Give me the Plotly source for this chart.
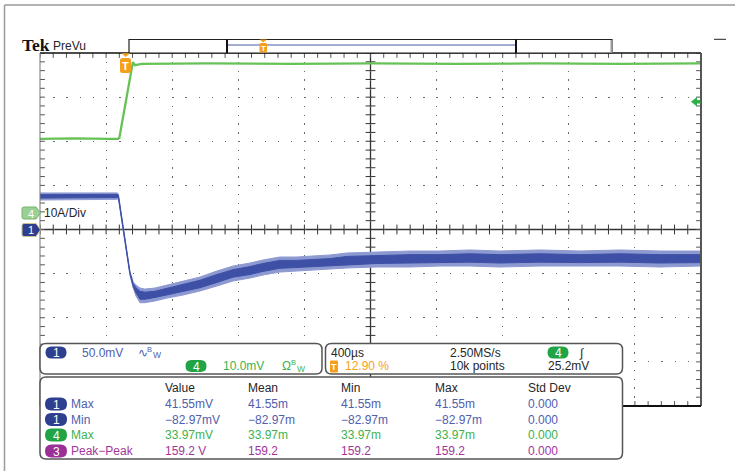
import numpy as np
import plotly.graph_objects as go

# ---------------- scope settings (read from the on-screen readouts) ----------------
H_SCALE_US = 400.0        # µs / div
TRIG_POS_PCT = 12.90      # trigger position in % of record
CH1_SCALE_MV = 50.0       # mV / div
CH4_SCALE_A = 10.0        # A / div  (10A/Div)
CH4_OFFSET_DIV = 0.374    # ch4 ground marker position above centre (div)
TRIG_LEVEL_A = 25.2       # trigger level (25.2mV -> 25.2 A)

# ---------------- CH1 (blue): envelope of the noisy trace, mV ----------------
ch1_t = [-516, -300, -150, -50, -42, -12, 28, 48, 65, 89, 119, 180, 252, 349, 452, 555,
         652, 755, 833, 936, 1038, 1136, 1239, 1342, 1523, 1723, 1904, 2086, 2268, 2510,
         2752, 2994, 3236, 3484]
ch1_hi = [41.4, 41.5, 41.0, 41.5, 40.5, 1.7, -47.0, -59.5, -62.9, -66.3, -67.5, -66.3,
          -62.9, -58.4, -53.9, -47.0, -41.4, -38.0, -34.6, -31.2, -31.2, -30.0, -28.9,
          -26.6, -25.5, -24.4, -24.4, -23.2, -24.4, -23.2, -24.4, -23.2, -24.4, -24.4]
ch1_lo = [33.4, 34.0, 33.6, 34.2, 35.0, -2.8, -51.6, -66.3, -75.4, -83.0, -82.9, -81.0,
          -77.7, -74.3, -69.7, -64.0, -58.4, -55.0, -51.6, -48.2, -47.0, -45.9, -44.8,
          -43.6, -42.5, -42.5, -41.4, -41.4, -42.5, -41.4, -41.4, -41.4, -42.5, -41.4]
ch1_core_hi = [39.5, 39.8, 39.4, 39.8, 39.0, 0.5, -48.5, -61.5, -66.0, -70.0, -71.0, -70.0,
               -66.5, -62.0, -57.5, -51.0, -45.5, -42.0, -38.5, -35.0, -35.0, -34.0, -33.0,
               -30.5, -29.5, -28.5, -28.5, -27.5, -28.5, -27.5, -28.5, -27.5, -28.5, -28.5]
ch1_core_lo = [35.6, 36.2, 35.8, 36.2, 37.0, -1.5, -50.0, -64.5, -72.0, -79.0, -79.0, -77.0,
               -74.0, -70.5, -66.0, -60.0, -54.0, -51.0, -47.5, -44.0, -43.0, -42.0, -41.0,
               -39.5, -38.5, -38.0, -37.5, -37.0, -38.0, -37.0, -37.5, -37.0, -38.0, -37.5]

# ---------------- CH4 (green): current, A ----------------
ch4_t = [-516, -300, -100, -45, -36, 46, 58, 100, 500, 1000, 1500, 2000, 2500, 3000, 3484]
ch4_a = [16.8, 16.9, 16.8, 16.8, 17.0, 34.2, 33.5, 33.8, 33.9, 33.8, 33.9, 33.8, 33.9, 33.8, 33.9]

# ---------------- measurement table ----------------
meas_headers = ["Value", "Mean", "Min", "Max", "Std Dev"]
meas_channels = ["1", "1", "4", "3"]
meas_names = ["Max", "Min", "Max", "Peak\u2212Peak"]
meas_values = [
    ["41.55mV", "41.55m", "41.55m", "41.55m", "0.000"],
    ["\u221282.97mV", "\u221282.97m", "\u221282.97m", "\u221282.97m", "0.000"],
    ["33.97mV", "33.97m", "33.97m", "33.97m", "0.000"],
    ["159.2 V", "159.2", "159.2", "159.2", "0.000"],
]

# ---------------- colours / fonts ----------------
FONT = "Liberation Sans, Arial, sans-serif"
BLUE_TXT, BLUE_PILL = "#5060ae", "#2d3f8e"
GREEN_TXT, GREEN_PILL = "#3db24e", "#20a445"
PURPLE_TXT, PURPLE_PILL = "#a3369b", "#9a2f95"
ORANGE = "#f5a01c"
DARK = "#262626"
TRACE_BLUE_LIGHT, TRACE_BLUE = "#8d9ad2", "#3e50a6"
TRACE_GREEN = "#66c256"

# ---------------- geometry of the graticule in the page ----------------
L, R, T, B = 40, 701, 53, 406
W, H = 735, 471
PW, PH = R - L, B - T

t0 = -TRIG_POS_PCT / 100.0 * 10 * H_SCALE_US
t1 = t0 + 10 * H_SCALE_US
y_half = 4 * CH1_SCALE_MV
y2_lo = -4 * CH4_SCALE_A - CH4_OFFSET_DIV * CH4_SCALE_A
y2_hi = 4 * CH4_SCALE_A - CH4_OFFSET_DIV * CH4_SCALE_A
t_mid = (t0 + t1) / 2


def px(x):
    return (x - L) / PW


def py(y):
    return (B - y) / PH


def P(x, y):
    return f"{px(x):.5f},{py(y):.5f}"


def rrect(x0, y0, x1, y1, r):
    return (f"M{P(x0 + r, y0)} L{P(x1 - r, y0)} Q{P(x1, y0)} {P(x1, y0 + r)} "
            f"L{P(x1, y1 - r)} Q{P(x1, y1)} {P(x1 - r, y1)} L{P(x0 + r, y1)} "
            f"Q{P(x0, y1)} {P(x0, y1 - r)} L{P(x0, y0 + r)} Q{P(x0, y0)} {P(x0 + r, y0)} Z")


shapes, annotations = [], []


def line_px(x0, y0, x1, y1, color, width, layer="above"):
    shapes.append(dict(type="line", xref="paper", yref="paper", x0=px(x0), y0=py(y0),
                       x1=px(x1), y1=py(y1), line=dict(color=color, width=width), layer=layer))


def path_px(path, fill, line_color=None, width=0, layer="above"):
    shapes.append(dict(type="path", xref="paper", yref="paper", path=path, fillcolor=fill,
                       line=dict(color=line_color or fill, width=width), layer=layer))


def txt(x, y, s, color, size=12, anchor="left", family=FONT, weight="normal"):
    annotations.append(dict(xref="paper", yref="paper", x=px(x), y=py(y), text=s,
                            showarrow=False, xanchor=anchor, yanchor="middle", borderpad=0,
                            font=dict(family=family, size=size, color=color, weight=weight)))


def pill(cx, cy, w, h, color, label):
    path_px(rrect(cx - w / 2, cy - h / 2, cx + w / 2, cy + h / 2, h / 2), color)
    txt(cx, cy + 0.5, label, "white", 12, "center")


def bw_symbol(x, y, glyph, color):
    txt(x, y, glyph, color, 12)
    txt(x + 9.5, y - 3.5, "B", color, 7.5)
    txt(x + 15.5, y + 2.5, "W", color, 8.5)


fig = go.Figure()

# ---------------- graticule ticks (centre cross + edges) ----------------
minor_t = np.arange(t0, t1 + 1e-6, H_SCALE_US / 5)
minor_v = np.arange(-y_half, y_half + 1e-6, CH1_SCALE_MV / 5)
tick_style = dict(mode="markers", hoverinfo="skip", showlegend=False)
fig.add_trace(go.Scatter(x=minor_t, y=np.zeros_like(minor_t), **tick_style,
                         marker=dict(symbol="line-ns", size=7, line=dict(color="#333", width=1))))
fig.add_trace(go.Scatter(x=np.full_like(minor_v, t_mid), y=minor_v, **tick_style,
                         marker=dict(symbol="line-ew", size=7, line=dict(color="#333", width=1))))
for yy in (-y_half, y_half):
    fig.add_trace(go.Scatter(x=minor_t, y=np.full_like(minor_t, yy), **tick_style,
                             marker=dict(symbol="line-ns", size=7, line=dict(color="#555", width=1))))
for xx in (t0, t1):
    fig.add_trace(go.Scatter(x=np.full_like(minor_v, xx), y=minor_v, **tick_style,
                             marker=dict(symbol="line-ew", size=7, line=dict(color="#555", width=1))))

# ---------------- CH1 envelope bands ----------------
fig.add_trace(go.Scatter(x=ch1_t, y=ch1_lo, mode="lines", line=dict(color=TRACE_BLUE_LIGHT, width=1),
                         hoverinfo="skip", showlegend=False))
fig.add_trace(go.Scatter(x=ch1_t, y=ch1_hi, mode="lines", line=dict(color=TRACE_BLUE_LIGHT, width=1),
                         fill="tonexty", fillcolor=TRACE_BLUE_LIGHT, hoverinfo="skip", showlegend=False))
fig.add_trace(go.Scatter(x=ch1_t, y=ch1_core_lo, mode="lines", line=dict(color=TRACE_BLUE, width=1),
                         hoverinfo="skip", showlegend=False))
fig.add_trace(go.Scatter(x=ch1_t, y=ch1_core_hi, mode="lines", line=dict(color=TRACE_BLUE, width=1),
                         fill="tonexty", fillcolor=TRACE_BLUE, hoverinfo="skip", showlegend=False))

# ---------------- CH4 ----------------
fig.add_trace(go.Scatter(x=ch4_t, y=ch4_a, yaxis="y2", mode="lines",
                         line=dict(color=TRACE_GREEN, width=2.3), hoverinfo="skip", showlegend=False))

# ---------------- centre cross ----------------
shapes.append(dict(type="line", xref="x", yref="paper", x0=t_mid, x1=t_mid, y0=0, y1=1,
                   line=dict(color="#333", width=1.3), layer="between"))
shapes.append(dict(type="line", xref="paper", yref="y", x0=0, x1=1, y0=0, y1=0,
                   line=dict(color="#333", width=1.3), layer="between"))

# ---------------- graticule frame ----------------
line_px(L, T, R, T, "#111", 1.5)
line_px(L, T, L, B, "#777", 1)
line_px(R, T, R, B, "#555", 2)
line_px(L, B, R, B, "#111", 2)

# ---------------- outer page border ----------------
line_px(4.5, 5, W, 5, "#9a9a9a", 1.5)
line_px(4.5, 5, 4.5, H, "#9a9a9a", 1.5)

# ---------------- header: Tek PreVu + record bar ----------------
txt(20.5, 45.5, "Tek", "#111", 17.5, family="Liberation Serif, DejaVu Serif, serif", weight="bold")
txt(52, 46, "PreVu", DARK, 12)
shapes.append(dict(type="rect", xref="paper", yref="paper", x0=px(129), x1=px(612), y0=py(53), y1=py(39.5),
                   line=dict(color="#222", width=1.2), fillcolor="white", layer="above"))
line_px(611.5, 40, 611.5, 53, "#999", 2)
line_px(227, 45, 516, 45, "#4a5aa8", 1.2)
line_px(227, 39.5, 227, 53, "#111", 2)
line_px(516, 39.5, 516, 53, "#111", 2)
# trigger marker in record bar
path_px(f"M{P(259.5, 39.5)} L{P(267, 39.5)} L{P(263.2, 42.5)} Z", ORANGE)
path_px(rrect(259.5, 43, 267, 52.5, 1.5), ORANGE)
txt(263.3, 48, "T", "white", 8, "center", weight="bold")
line_px(714, 39.3, 726, 39.3, "#222", 1)

# ---------------- trigger position marker ----------------
path_px(f"M{P(121.5, 53.3)} L{P(130, 53.3)} L{P(125.7, 57)} Z", ORANGE)
path_px(rrect(120, 58, 131, 73, 2.5), ORANGE)
txt(125.6, 65.8, "T", "white", 11, "center", weight="bold")

# trigger level arrow (right)
path_px(f"M{P(691, 101.7)} L{P(697, 97)} L{P(697, 100)} L{P(700.5, 100)} L{P(700.5, 103.4)} "
        f"L{P(697, 103.4)} L{P(697, 106.4)} Z", "#2fae4a")

# ---------------- channel ground markers (left) ----------------
path_px(f"M{P(24, 207)} L{P(36, 207)} L{P(40.5, 213)} L{P(36, 219)} L{P(24, 219)} "
        f"Q{P(22, 219)} {P(22, 217)} L{P(22, 209)} Q{P(22, 207)} {P(24, 207)} Z",
        "#9ccf95", "#74b56c", 1)
txt(30.5, 213.5, "4", "white", 11, "center")
txt(43, 213, "10A/Div", DARK, 12)
path_px(f"M{P(24, 223.5)} L{P(36, 223.5)} L{P(40.5, 229.8)} L{P(36, 236.5)} L{P(24, 236.5)} "
        f"Q{P(22, 236.5)} {P(22, 234.5)} L{P(22, 225.5)} Q{P(22, 223.5)} {P(24, 223.5)} Z",
        "#2d3f8e", "#c9c28a", 1)
txt(30.5, 230.5, "1", "white", 11, "center")

# ---------------- readout panels ----------------
path_px(rrect(40, 343.5, 322, 374, 6), "white", "#555", 1.5)
path_px(rrect(325.5, 343.5, 622.5, 374, 6), "white", "#555", 1.5)
path_px(rrect(40, 377, 622.5, 459, 6), "white", "#555", 1.5)

# panel 1: vertical settings
pill(56, 352.5, 21, 12, BLUE_PILL, "1")
txt(81, 352.5, "50.0mV", BLUE_TXT)
bw_symbol(136.5, 352.5, "\u223f", BLUE_TXT)
pill(196, 366, 21, 12, GREEN_PILL, "4")
txt(222, 366, "10.0mV", GREEN_TXT)
bw_symbol(280.5, 366, "\u03a9", GREEN_TXT)

# panel 2: horizontal / trigger settings
txt(329.5, 352.5, f"{H_SCALE_US:.0f}\u00b5s", DARK)
txt(448.5, 352.5, "2.50MS/s", DARK)
pill(558, 352.5, 21, 12, GREEN_PILL, "4")
txt(578, 352.5, "\u222b", DARK, 12)
path_px(rrect(330, 360.5, 338, 372.5, 1), ORANGE)
txt(334, 366.8, "T", "white", 9, "center", weight="bold")
txt(343.5, 366, f"{TRIG_POS_PCT:.2f} %", ORANGE)
txt(448.5, 366, "10k points", DARK)
txt(546.5, 366, f"{TRIG_LEVEL_A:.1f}mV", DARK)

# measurement table
col_x = [163.5, 246.5, 340, 433.5, 527]
row_y = [404, 419.5, 435, 451]
for cx, hname in zip(col_x, meas_headers):
    txt(cx, 388, hname, DARK)
row_cols = [(BLUE_TXT, BLUE_PILL), (BLUE_TXT, BLUE_PILL), (GREEN_TXT, GREEN_PILL), (PURPLE_TXT, PURPLE_PILL)]
for ry, ch, name, vals, (tc, pc) in zip(row_y, meas_channels, meas_names, meas_values, row_cols):
    pill(56, ry, 22, 13, pc, ch)
    txt(70, ry, name, tc)
    for cx, v in zip(col_x, vals):
        txt(cx, ry, v, tc)

fig.update_layout(
    width=W, height=H, autosize=False,
    margin=dict(l=L, r=W - R, t=T, b=H - B, pad=0),
    paper_bgcolor="white", plot_bgcolor="white", showlegend=False,
    xaxis=dict(range=[t0, t1], tick0=t0, dtick=H_SCALE_US, showgrid=True, gridcolor="#6a6a6a",
               gridwidth=1, griddash="1.3px,7.5px", zeroline=False, showline=False,
               showticklabels=False, ticks="", fixedrange=True),
    yaxis=dict(range=[-y_half, y_half], tick0=0, dtick=CH1_SCALE_MV, showgrid=True, gridcolor="#6a6a6a",
               gridwidth=1, griddash="1.3px,11.92px", zeroline=False, showline=False,
               showticklabels=False, ticks="", fixedrange=True),
    yaxis2=dict(range=[y2_lo, y2_hi], overlaying="y", visible=False, fixedrange=True),
    shapes=shapes, annotations=annotations,
)

fig.write_html("out.html", config={"displayModeBar": False},
               post_script="document.body.style.margin='0';document.body.style.overflow='hidden';")
